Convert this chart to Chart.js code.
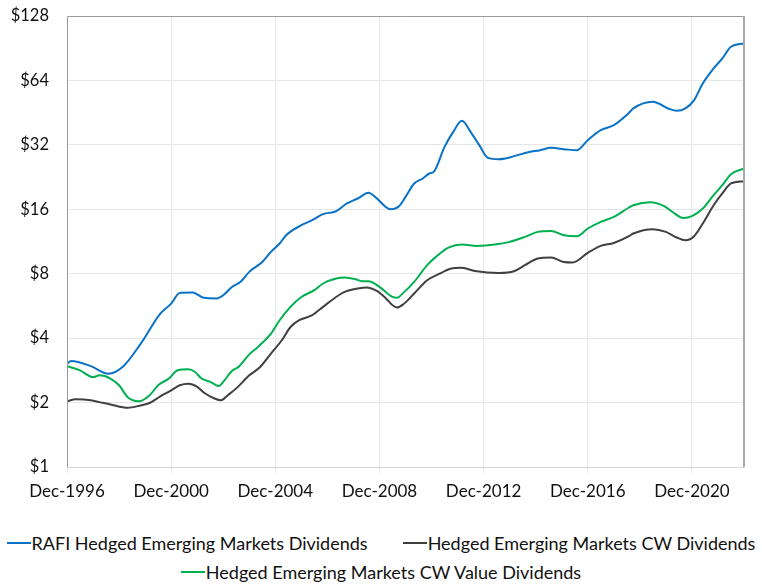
<!DOCTYPE html>
<html>
<head>
<meta charset="utf-8">
<script src="https://cdn.jsdelivr.net/npm/chart.js@4.4.0/dist/chart.umd.min.js"></script>
<style>
  body { margin: 0; background: #fff; font-family: Lato, sans-serif; }
  #wrap { position: relative; width: 762px; height: 515px; }
  #legend {
    width: 762px; margin-top: 17px;
    display: flex; flex-wrap: wrap; justify-content: center;
    column-gap: 35px; row-gap: 7px;
    font-size: 18px; line-height: 22px; color: #111;
  }
  .item { white-space: nowrap; display: flex; align-items: center; }
  .mark { display: inline-block; width: 24px; height: 2px; margin-right: 1px; }
</style>
</head>
<body>
<div id="wrap"><canvas id="chart"></canvas></div>
<div id="legend"></div>
<script>
// x = months since Dec-1996, y = growth of $1
const xTickMonths = [0, 48, 96, 144, 192, 240, 288];
const xTickLabels = ['Dec-1996', 'Dec-2000', 'Dec-2004', 'Dec-2008', 'Dec-2012', 'Dec-2016', 'Dec-2020'];
const yTicks = [1, 2, 4, 8, 16, 32, 64, 128];

const seriesNames = [
    'RAFI Hedged Emerging Markets Dividends',
    'Hedged Emerging Markets CW Dividends',
    'Hedged Emerging Markets CW Value Dividends',
];
const seriesColors = ['#0a72c6', '#404040', '#00b050'];

const rafiMonths = [0, 2, 11, 19, 26, 34, 43, 48, 52, 58, 63, 69, 72, 76, 80, 84, 90, 94, 98, 101, 108, 113, 118, 124, 129, 134, 139, 142, 149, 153, 156, 160, 164, 167, 169, 174, 178, 182, 186, 190, 194, 199, 204, 212, 218, 223, 230, 235, 240, 246, 252, 259, 261, 270, 277, 281, 285, 289, 293, 298, 302, 306, 312];
const rafiValues = [3.04, 3.13, 2.96, 2.73, 2.96, 3.77, 5.21, 5.80, 6.51, 6.54, 6.17, 6.13, 6.35, 6.94, 7.33, 8.16, 9.08, 10.12, 11.07, 12.11, 13.48, 14.23, 15.18, 15.67, 17.03, 17.97, 19.09, 18.29, 16.02, 16.54, 18.29, 21.12, 22.29, 23.52, 23.93, 31.32, 36.81, 41.44, 36.81, 31.89, 27.82, 27.43, 27.94, 29.49, 30.23, 30.98, 30.46, 30.23, 33.66, 37.48, 39.56, 45.16, 47.35, 50.84, 47.35, 46.14, 47.35, 51.77, 61.96, 72.82, 81.1, 91.9, 95.3];

const cwMonths = [0, 4, 11, 15, 20, 28, 34, 38, 43, 48, 52, 56, 60, 63, 68, 71, 74, 78, 84, 89, 94, 99, 103, 107, 113, 118, 124, 128, 134, 138, 143, 147, 150, 152, 155, 160, 166, 172, 176, 182, 188, 199, 206, 211, 217, 223, 229, 233, 240, 246, 252, 259, 261, 270, 276, 281, 285, 289, 293, 298, 302, 306, 312];
const cwValues = [2.03, 2.07, 2.05, 2.01, 1.96, 1.89, 1.94, 1.99, 2.14, 2.28, 2.41, 2.45, 2.37, 2.23, 2.09, 2.05, 2.16, 2.33, 2.68, 2.93, 3.39, 3.91, 4.51, 4.85, 5.12, 5.60, 6.23, 6.58, 6.82, 6.90, 6.63, 6.13, 5.70, 5.56, 5.76, 6.47, 7.46, 8.02, 8.40, 8.52, 8.24, 8.07, 8.22, 8.77, 9.42, 9.52, 9.08, 9.03, 10.01, 10.79, 11.14, 11.98, 12.33, 12.92, 12.55, 11.81, 11.47, 11.98, 13.73, 16.72, 18.97, 21.12, 21.65];

const cwValueMonths = [0, 6, 12, 15, 20, 24, 28, 33, 38, 42, 47, 51, 56, 59, 62, 66, 70, 72, 76, 79, 84, 88, 94, 98, 103, 108, 114, 118, 124, 128, 133, 136, 139, 144, 150, 152, 155, 160, 166, 170, 176, 182, 189, 198, 204, 211, 217, 223, 229, 235, 240, 246, 252, 259, 261, 269, 275, 279, 284, 288, 293, 298, 302, 306, 312];
const cwValueValues = [2.96, 2.83, 2.63, 2.68, 2.59, 2.41, 2.12, 2.03, 2.16, 2.41, 2.59, 2.83, 2.86, 2.78, 2.59, 2.50, 2.39, 2.50, 2.81, 2.93, 3.36, 3.64, 4.20, 4.85, 5.60, 6.23, 6.70, 7.20, 7.60, 7.68, 7.54, 7.38, 7.38, 6.94, 6.23, 6.17, 6.51, 7.33, 8.77, 9.59, 10.61, 10.95, 10.79, 10.99, 11.27, 11.89, 12.55, 12.68, 12.11, 11.98, 13.01, 13.97, 14.74, 16.31, 16.72, 17.27, 16.60, 15.56, 14.58, 14.86, 16.14, 18.62, 20.74, 23.35, 24.83];

const toPoints = (xs, ys) => xs.map((x, i) => ({ x, y: ys[i] }));

function line(label, color, xs, ys) {
    return {
        label,
        data: toPoints(xs, ys),
        borderColor: color,
        backgroundColor: color,
        borderWidth: 2,
        pointRadius: 0,
        cubicInterpolationMode: 'monotone',
    };
}

// frame around the plot area
const plotFrame = {
    id: 'plotFrame',
    afterDatasetsDraw(chart) {
        const { ctx, chartArea: a } = chart;
        ctx.save();
        ctx.lineWidth = 1;
        ctx.strokeStyle = '#d4d4d4';
        ctx.beginPath();
        ctx.moveTo(a.left, a.bottom + 0.5);
        ctx.lineTo(a.right, a.bottom + 0.5);
        ctx.stroke();
        ctx.strokeStyle = '#9a9a9a';
        ctx.beginPath();
        ctx.moveTo(a.left + 0.5, a.bottom);
        ctx.lineTo(a.left + 0.5, a.top + 0.5);
        ctx.lineTo(a.right - 0.5, a.top + 0.5);
        ctx.stroke();
        ctx.lineWidth = 2;
        ctx.strokeStyle = '#a8a8a8';
        ctx.beginPath();
        ctx.moveTo(a.right, a.top);
        ctx.lineTo(a.right, a.bottom);
        ctx.stroke();
        ctx.restore();
    },
};

new Chart(document.getElementById('chart'), {
    type: 'line',
    data: {
        datasets: [
            line(seriesNames[0], seriesColors[0], rafiMonths, rafiValues),
            line(seriesNames[1], seriesColors[1], cwMonths, cwValues),
            line(seriesNames[2], seriesColors[2], cwValueMonths, cwValueValues),
        ],
    },
    options: {
        responsive: true,
        maintainAspectRatio: false,
        animation: false,
        layout: { padding: { top: 16, right: 18, left: 0, bottom: 0 } },
        plugins: { legend: { display: false }, tooltip: { enabled: false } },
        scales: {
            x: {
                type: 'linear',
                min: 0,
                max: 312,
                afterBuildTicks: s => { s.ticks = xTickMonths.map(v => ({ value: v })); },
                afterFit: s => { s.height = 48; },
                ticks: {
                    autoSkip: false,
                    maxRotation: 0,
                    padding: 8,
                    color: '#111',
                    font: { family: 'Lato', size: 17 },
                    callback: v => xTickLabels[xTickMonths.indexOf(v)],
                },
                grid: { color: '#e6e6e6', tickLength: 6 },
                border: { display: false },
            },
            y: {
                type: 'logarithmic',
                min: 1,
                max: 128,
                afterBuildTicks: s => { s.ticks = yTicks.map(v => ({ value: v })); },
                afterFit: s => { s.width = 67; s.paddingTop = 0; s.paddingBottom = 0; },
                ticks: {
                    padding: 18,
                    color: '#111',
                    font: { family: 'Lato', size: 16.5 },
                    callback: v => '$' + v,
                },
                grid: { color: '#e6e6e6', drawTicks: false },
                border: { display: false },
            },
        },
    },
    plugins: [plotFrame],
});

// legend below the chart
const legendOrder = [0, 1, 2];
document.getElementById('legend').innerHTML = legendOrder.map(i =>
    `<div class="item"><span class="mark" style="background:${seriesColors[i]}"></span>${seriesNames[i]}</div>`
).join('');
</script>
</body>
</html>
